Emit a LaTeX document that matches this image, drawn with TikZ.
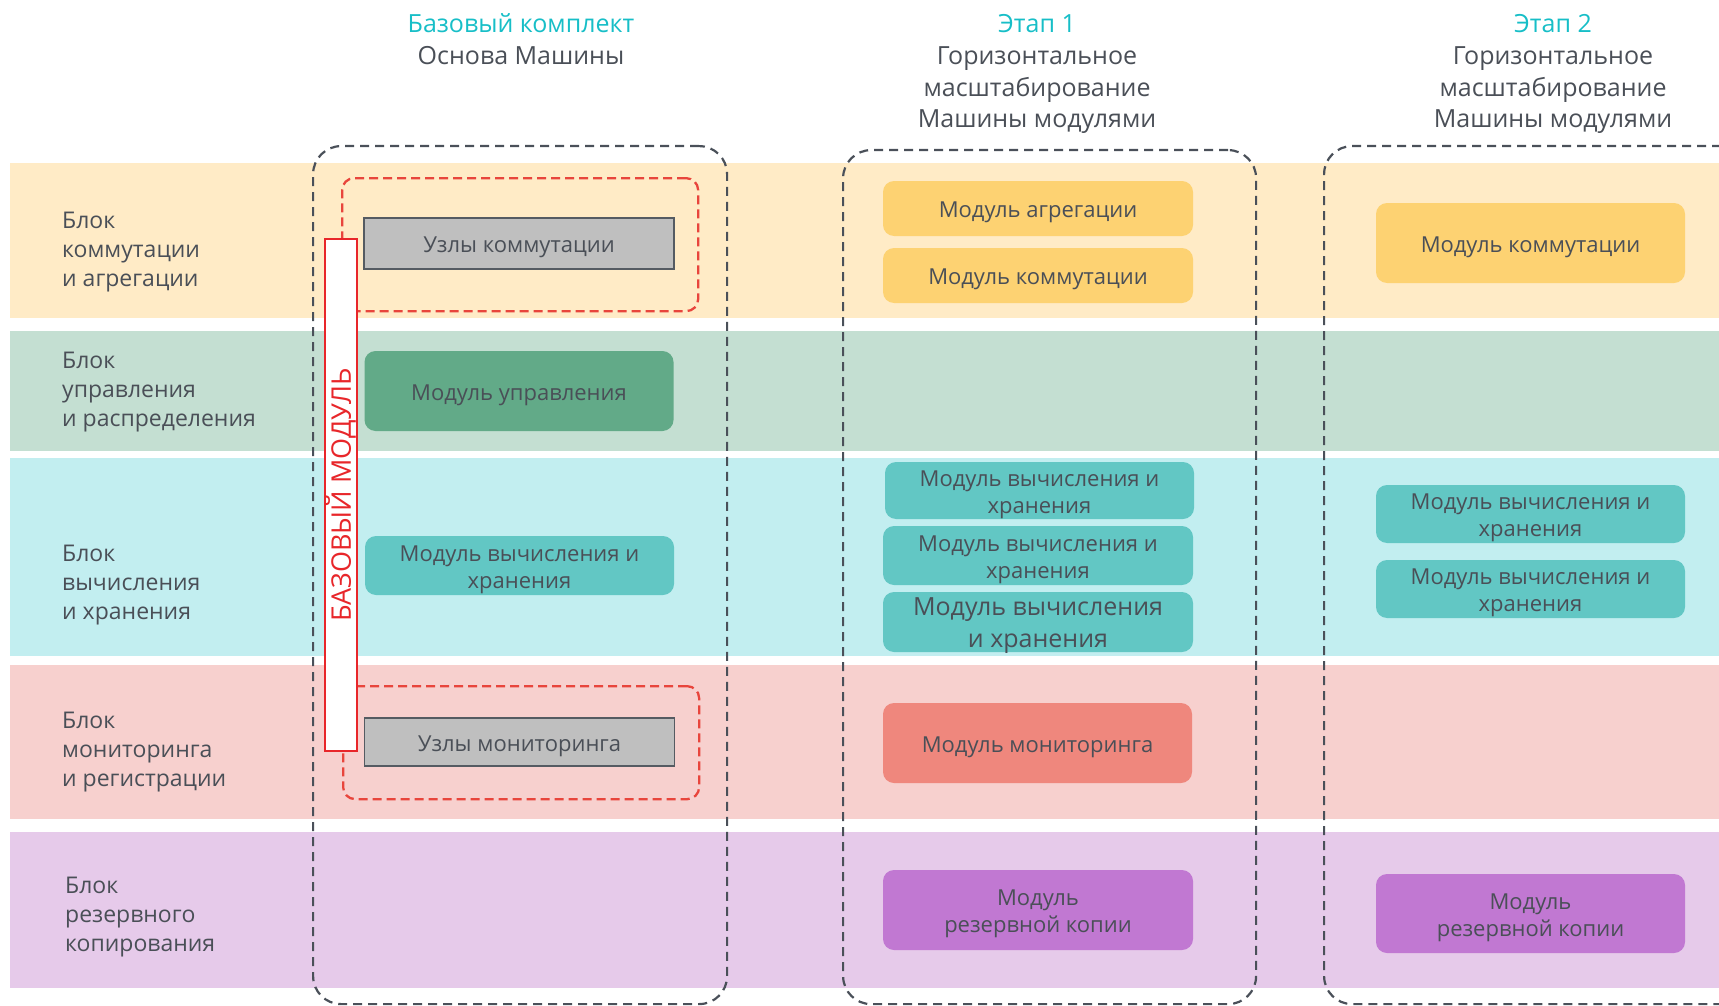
\documentclass[tikz,border=0pt]{standalone}
\usepackage{fontspec}
\setmainfont{Open Sans}
\definecolor{txt}{HTML}{4A4F57}
\definecolor{headc}{HTML}{17BEC7}
\definecolor{bandY}{HTML}{FFEBC6}
\definecolor{bandG}{HTML}{C4DFD2}
\definecolor{bandC}{HTML}{C2EEF0}
\definecolor{bandP}{HTML}{F7D0CE}
\definecolor{bandV}{HTML}{E6CAEA}
\definecolor{modY}{HTML}{FDD272}
\definecolor{modG}{HTML}{62AA88}
\definecolor{modC}{HTML}{62C7C4}
\definecolor{modR}{HTML}{EF877D}
\definecolor{modV}{HTML}{C178D2}
\definecolor{dashc}{HTML}{4A5059}
\definecolor{redd}{HTML}{E8453C}
\definecolor{redb}{HTML}{E8262A}
\definecolor{grayfill}{HTML}{BFBFBF}
\definecolor{grayline}{HTML}{555B62}
\begin{document}
\begin{tikzpicture}[x=1pt,y=-1pt,
  band/.style={anchor=north west, inner sep=0pt, outer sep=0pt, minimum width=1709pt},
  grpbox/.style={anchor=north west, draw=dashc, line width=2.2pt, dash pattern=on 9pt off 6pt, rounded corners=28pt, inner sep=0pt},
  reddash/.style={anchor=north west, draw=redd, line width=2.3pt, dash pattern=on 9pt off 5pt, rounded corners=12pt, inner sep=0pt},
  modbox/.style={rounded corners=11pt, inner sep=0pt, minimum width=309pt},
  modtext/.style={inner sep=0pt, align=center, text=txt, font=\fontsize{22}{27}\selectfont},
  graybox/.style={fill=grayfill, draw=grayline, line width=1.5pt, inner sep=0pt, minimum width=310pt},
  graytext/.style={inner sep=0pt, text=txt, font=\fontsize{22}{26}\selectfont},
  rowlab/.style={anchor=west, align=left, inner sep=0pt, text=txt, font=\fontsize{23}{29}\selectfont},
  headline/.style={anchor=base, inner sep=0pt, text=txt, font=\fontsize{25}{32}\selectfont},
  headtop/.style={headline, text=headc}
]
\useasboundingbox (0,0) rectangle (1719,1006);
\clip (0,0) rectangle (1719,1006);

% bands
\node[band, fill=bandY, minimum height=155pt] (bY) at (10,163) {};
\node[band, fill=bandG, minimum height=120pt] (bG) at (10,331) {};
\node[band, fill=bandC, minimum height=198pt] (bC) at (10,458) {};
\node[band, fill=bandP, minimum height=154pt] (bP) at (10,665) {};
\node[band, fill=bandV, minimum height=156pt] (bV) at (10,832) {};

% row labels
\node[rowlab] (l1) at (62,252.5) {Блок\\коммутации\\и агрегации};
\node[rowlab] (l2) at (62,392.5) {Блок\\управления\\и распределения};
\node[rowlab] (l3) at (62,585.5) {Блок\\вычисления\\и хранения};
\node[rowlab] (l4) at (62,752.5) {Блок\\мониторинга\\и регистрации};
\node[rowlab] (l5) at (65,917.5) {Блок\\резервного\\копирования};

% headers
\node[headtop] (h0a) at (521,33) {Базовый комплект};
\node[headline] (h0b) at (521,65) {Основа Машины};
\node[headtop] (h1a) at (1037,33) {Этап 1};
\node[headline] (h1b) at (1037,65) {Горизонтальное};
\node[headline] (h1c) at (1037,97) {масштабирование};
\node[headline] (h1d) at (1037,128) {Машины модулями};
\node[headtop] (h2a) at (1553,33) {Этап 2};
\node[headline] (h2b) at (1553,65) {Горизонтальное};
\node[headline] (h2c) at (1553,97) {масштабирование};
\node[headline] (h2d) at (1553,128) {Машины модулями};

% group dashed boxes
\node[grpbox, minimum width=414pt, minimum height=858pt] (g0) at (312,145) {};
\node[grpbox, minimum width=413pt, minimum height=854pt] (g1) at (842,149) {};
\node[grpbox, minimum width=440pt, minimum height=858pt] (g2) at (1323,145) {};

% base column
\node[reddash, minimum width=356pt, minimum height=133pt] (r1) at (341,177) {};
\node[reddash, minimum width=356pt, minimum height=113pt] (r2) at (342,685) {};
\node[graybox, minimum height=51pt] (u1) at (519,243.5) {};
\node[graytext] (u1t) at ([yshift=-4pt]u1.center) {Узлы коммутации};
\node[graybox, minimum height=48pt] (u2) at (519.5,742) {};
\node[graytext] (u2t) at ([yshift=-4pt]u2.center) {Узлы мониторинга};
\node[modbox, fill=modG, minimum height=80pt] (mU) at (519,391) {};
\node[modtext] (mUt) at ([yshift=-4pt]mU.center) {Модуль управления};
\node[modbox, fill=modC, minimum height=59pt] (mC0) at (519.5,565.5) {};
\node[modtext] (mC0t) at ([yshift=-4pt]mC0.center) {Модуль вычисления и\\хранения};
\node[draw=redb, fill=white, line width=2pt, rotate=90, minimum width=512pt, minimum height=32pt, inner sep=0pt, text=redb, font=\fontsize{27}{30}\selectfont] (bm) at (341,495) {БАЗОВЫЙ МОДУЛЬ};

% stage 1
\node[modbox, fill=modY, minimum width=310pt, minimum height=55pt] (e1a) at (1038,208.5) {};
\node[modtext] (e1at) at ([yshift=-4pt]e1a.center) {Модуль агрегации};
\node[modbox, fill=modY, minimum width=310pt, minimum height=55pt] (e1k) at (1038,275.5) {};
\node[modtext] (e1kt) at ([yshift=-4pt]e1k.center) {Модуль коммутации};
\node[modbox, fill=modC, minimum height=57pt] (e1c1) at (1039.5,490.5) {};
\node[modtext] (e1c1t) at ([yshift=-4pt]e1c1.center) {Модуль вычисления и\\хранения};
\node[modbox, fill=modC, minimum width=310pt, minimum height=59pt] (e1c2) at (1038,555.5) {};
\node[modtext] (e1c2t) at ([yshift=-4pt]e1c2.center) {Модуль вычисления и\\хранения};
\node[modbox, fill=modC, minimum width=310pt, minimum height=60pt] (e1c3) at (1038,622) {};
\node[modtext, font=\fontsize{25}{32}\selectfont] (e1c3t) at ([yshift=-4pt]e1c3.center) {Модуль вычисления\\и хранения};
\node[modbox, fill=modR, minimum height=80pt] (e1m) at (1037.5,743) {};
\node[modtext] (e1mt) at ([yshift=-4pt]e1m.center) {Модуль мониторинга};
\node[modbox, fill=modV, minimum width=310pt, minimum height=80pt] (e1r) at (1038,910) {};
\node[modtext] (e1rt) at ([yshift=-4pt]e1r.center) {Модуль\\резервной копии};

% stage 2
\node[modbox, fill=modY, minimum height=80pt] (e2k) at (1530.5,243) {};
\node[modtext] (e2kt) at ([yshift=-4pt]e2k.center) {Модуль коммутации};
\node[modbox, fill=modC, minimum height=58pt] (e2c1) at (1530.5,514) {};
\node[modtext] (e2c1t) at ([yshift=-4pt]e2c1.center) {Модуль вычисления и\\хранения};
\node[modbox, fill=modC, minimum height=58pt] (e2c2) at (1530.5,589) {};
\node[modtext] (e2c2t) at ([yshift=-4pt]e2c2.center) {Модуль вычисления и\\хранения};
\node[modbox, fill=modV, minimum height=79pt] (e2r) at (1530.5,913.5) {};
\node[modtext] (e2rt) at ([yshift=-4pt]e2r.center) {Модуль\\резервной копии};
\end{tikzpicture}
\end{document}
